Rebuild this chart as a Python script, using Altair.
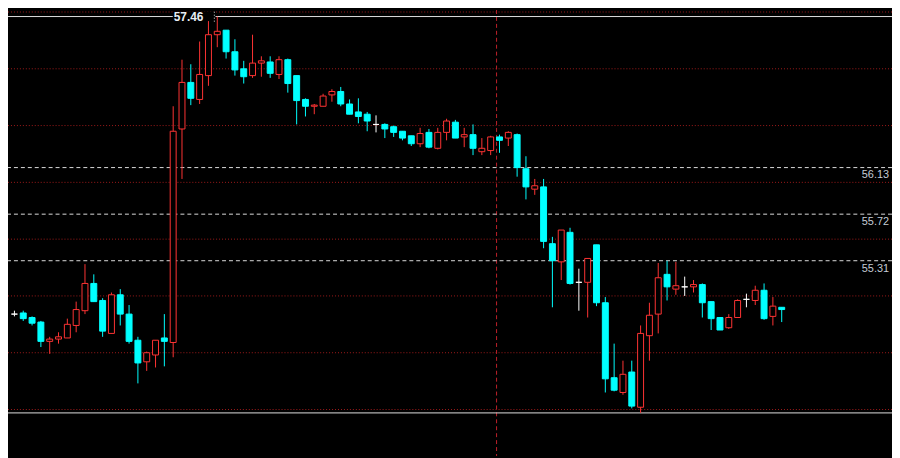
import altair as alt
import pandas as pd
import numpy as np

opens = [54.84, 54.85, 54.81, 54.77, 54.60, 54.62, 54.63, 54.74, 54.87, 55.11,
         54.96, 54.67, 55.01, 54.84, 54.61, 54.42, 54.48, 54.63, 54.59, 56.47,
         56.88, 56.73, 56.94, 57.30, 57.34, 57.15, 57.00, 56.94, 57.05, 57.06,
         56.95, 57.08, 56.94, 56.73, 56.67, 56.67, 56.77, 56.80, 56.69, 56.62,
         56.60, 56.51, 56.51, 56.49, 56.45, 56.41, 56.34, 56.44, 56.30, 56.44,
         56.53, 56.40, 56.42, 56.27, 56.28, 56.40, 56.39, 56.42, 56.12, 55.94,
         55.96, 55.46, 55.30, 55.56, 55.12, 55.12, 55.45, 54.94, 54.28, 54.15,
         54.33, 54.02, 54.65, 54.84, 55.19, 55.06, 55.08, 55.08, 55.10, 54.95,
         54.81, 54.72, 54.81, 54.97, 54.96, 55.05, 54.82, 54.90]
highs = [54.87, 54.87, 54.82, 54.78, 54.64, 54.68, 54.80, 54.95, 55.28, 55.19,
         54.98, 55.03, 55.06, 54.92, 54.64, 54.51, 54.61, 54.84, 56.67, 57.08,
         57.04, 57.24, 57.42, 57.46, 57.34, 57.26, 57.07, 57.30, 57.11, 57.11,
         57.11, 57.09, 56.94, 56.74, 56.69, 56.78, 56.82, 56.84, 56.73, 56.74,
         56.62, 56.59, 56.52, 56.50, 56.45, 56.41, 56.48, 56.47, 56.48, 56.56,
         56.55, 56.48, 56.51, 56.39, 56.41, 56.42, 56.45, 56.43, 56.23, 56.03,
         56.03, 55.52, 55.58, 55.60, 55.24, 55.33, 55.45, 54.99, 54.58, 54.43,
         54.43, 54.74, 54.94, 55.29, 55.31, 55.30, 55.17, 55.14, 55.11, 54.95,
         54.81, 54.84, 54.97, 55.02, 55.09, 55.11, 54.99, 54.90]
lows = [54.82, 54.78, 54.74, 54.55, 54.49, 54.58, 54.63, 54.68, 54.84, 54.95,
        54.64, 54.67, 54.74, 54.58, 54.23, 54.34, 54.37, 54.38, 54.46, 56.03,
        56.68, 56.69, 56.85, 57.19, 57.09, 56.94, 56.87, 56.92, 56.93, 56.92,
        56.91, 56.79, 56.51, 56.58, 56.60, 56.67, 56.71, 56.67, 56.60, 56.52,
        56.45, 56.44, 56.39, 56.40, 56.37, 56.32, 56.31, 56.30, 56.29, 56.37,
        56.39, 56.31, 56.24, 56.24, 56.24, 56.26, 56.32, 56.05, 55.85, 55.89,
        55.42, 54.90, 55.14, 55.10, 54.87, 54.81, 54.91, 54.15, 54.16, 54.13,
        54.01, 53.97, 54.43, 54.67, 54.96, 55.01, 55.00, 55.03, 54.81, 54.70,
        54.70, 54.71, 54.81, 54.90, 54.92, 54.79, 54.74, 54.77]
closes = [54.84, 54.80, 54.76, 54.60, 54.62, 54.64, 54.75, 54.88, 55.11, 54.95,
          54.69, 55.01, 54.84, 54.60, 54.41, 54.50, 54.61, 54.60, 56.45, 56.88,
          56.74, 56.95, 57.30, 57.33, 57.15, 56.99, 56.93, 57.05, 57.07, 56.96,
          57.08, 56.87, 56.72, 56.67, 56.68, 56.76, 56.80, 56.69, 56.60, 56.58,
          56.54, 56.51, 56.47, 56.44, 56.39, 56.34, 56.43, 56.31, 56.44, 56.54,
          56.39, 56.42, 56.30, 56.30, 56.40, 56.37, 56.44, 56.13, 55.96, 55.97,
          55.48, 55.31, 55.58, 55.11, 55.12, 55.33, 54.94, 54.27, 54.17, 54.31,
          54.03, 54.67, 54.83, 55.16, 55.08, 55.09, 55.08, 55.10, 54.94, 54.80,
          54.70, 54.81, 54.96, 54.97, 55.05, 54.80, 54.91, 54.88]

level_prices = [56.13, 55.72, 55.31]
level_labels = ["56.13", "55.72", "55.31"]
grid_prices = [54.0, 54.5, 55.0, 55.5, 56.0, 56.5, 57.0, 57.5]
period_high = 57.46
period_high_label = "57.46"
period_high_index = 23
period_low = 53.97
separator_index = 54.67

W, H = 892, 450
px_per_candle = 9.0
x_off = 1.5
x_dom = [-x_off / px_per_candle, (W - x_off) / px_per_candle]
y_dom = [53.5908, 57.5174]

xs = alt.Scale(domain=x_dom, nice=False, zero=False)
ys = alt.Scale(domain=y_dom, nice=False, zero=False)

df = pd.DataFrame({"i": np.arange(len(opens)), "open": opens, "high": highs,
                   "low": lows, "close": closes})
df["dir"] = np.where(df.close > df.open, "up", np.where(df.close < df.open, "down", "flat"))

dirs = ["up", "down", "flat"]
stroke_scale = alt.Scale(domain=dirs, range=["#ff3434", "#00ffff", "#ffffff"])
fill_scale = alt.Scale(domain=dirs, range=["#000000", "#00ffff", "#ffffff"])

grid = alt.Chart(pd.DataFrame({"p": grid_prices})).mark_rule(
    color="#a01a1a", strokeDash=[1, 2], strokeWidth=1
).encode(y=alt.Y("p:Q", scale=ys, axis=None))

sep = alt.Chart(pd.DataFrame({"s": [separator_index]})).mark_rule(
    color="#c0202a", strokeDash=[4, 3], strokeWidth=1
).encode(x=alt.X("s:Q", scale=xs, axis=None))

lv = pd.DataFrame({"p": level_prices, "t": level_labels})
levels = alt.Chart(lv).mark_rule(
    color="#dcdcdc", strokeDash=[4, 3], strokeWidth=1
).encode(y=alt.Y("p:Q", scale=ys, axis=None))

ext = alt.Chart(pd.DataFrame({"p": [period_high, period_low]})).mark_rule(
    color="#e0e0e0", strokeWidth=1
).encode(y=alt.Y("p:Q", scale=ys, axis=None))

hi = pd.DataFrame({"i0": [period_high_index - 5.05], "i1": [period_high_index - 0.2],
                   "i2": [period_high_index - 0.33],
                   "p": [period_high], "p0": [period_high - 0.045], "p1": [period_high + 0.045],
                   "t": [period_high_label]})
hi_box = alt.Chart(hi).mark_rect(color="#000000").encode(
    x=alt.X("i0:Q", scale=xs, axis=None), x2="i1:Q",
    y=alt.Y("p0:Q", scale=ys, axis=None), y2="p1:Q")
hi_dots = alt.Chart(hi).mark_rule(color="#e0e0e0", strokeDash=[1, 2]).encode(
    x=alt.X("i2:Q", scale=xs, axis=None),
    y=alt.Y("p0:Q", scale=ys, axis=None), y2="p1:Q")
hi_text = alt.Chart(hi).mark_text(
    align="left", baseline="middle", dx=1, fontSize=12, fontWeight="bold",
    font="Liberation Sans", color="#e8eef4"
).encode(x=alt.X("i0:Q", scale=xs, axis=None), y=alt.Y("p:Q", scale=ys, axis=None), text="t:N")

wicks = alt.Chart(df).mark_rule(strokeWidth=1).encode(
    x=alt.X("i:Q", scale=xs, axis=None),
    y=alt.Y("low:Q", scale=ys, axis=None), y2="high:Q",
    stroke=alt.Stroke("dir:N", scale=stroke_scale, legend=None))

bodies = alt.Chart(df).mark_bar(size=6, strokeWidth=1).encode(
    x=alt.X("i:Q", scale=xs, axis=None),
    y=alt.Y("open:Q", scale=ys, axis=None), y2="close:Q",
    stroke=alt.Stroke("dir:N", scale=stroke_scale, legend=None),
    fill=alt.Fill("dir:N", scale=fill_scale, legend=None))

labels = alt.Chart(lv).mark_text(
    align="right", baseline="top", dy=2, fontSize=11, font="Liberation Sans",
    color="#c4ccd6"
).encode(x=alt.value(W - 3), y=alt.Y("p:Q", scale=ys, axis=None), text="t:N")

chart = alt.layer(grid, sep, levels, ext, hi_box, hi_dots, hi_text, wicks, bodies, labels).properties(
    width=W, height=H, padding=0, autosize=alt.AutoSizeParams(type="none"),
    background="#000000"
).configure_view(strokeWidth=0)

chart.save("out.html", embed_options={"renderer": "svg", "actions": False})
